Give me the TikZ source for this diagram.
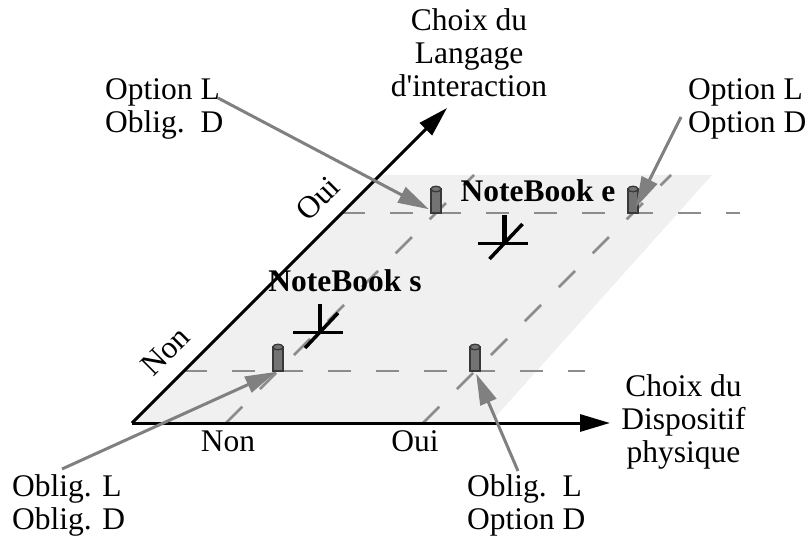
\documentclass[tikz,border=0pt]{standalone}
\usepackage{fontspec}
\setmainfont{Liberation Serif}
\usetikzlibrary{arrows.meta}

\tikzset{
  txt/.style={font=\fontsize{31.5}{33}\selectfont, inner sep=0pt},
  plane/.style={fill=black!6},
  gridline/.style={draw=black!45, line width=2.7pt, dash pattern=on 23pt off 25pt},
  axis/.style={line width=3pt, -{Triangle[length=30pt, width=17pt]}},
  callout/.style={draw=black!50, line width=3pt, -{Triangle[length=31pt, width=17pt]}},
  pegbody/.style={fill=black!55, draw=black!78, line width=1.3pt},
  peg/.pic={
    \filldraw[pegbody] (-5,-24) rectangle (5,0);
    \filldraw[pegbody] (0,-24) ellipse[x radius=5pt, y radius=2.8pt];
  },
  notemark/.pic={
    \draw[line width=3pt] (-27,0) -- (23,0);
    \draw[line width=4.5pt] (0,0) -- (0,-28);
    \draw[line width=3.5pt] (-15,16) -- (18,-19);
  }
}

\begin{document}
\begin{tikzpicture}[x=1pt, y=-1pt]
    \useasboundingbox (0,0) rectangle (810,537);

    % axes and plane
    \coordinate (O) at (132,423);
    \coordinate (xend) at (610,423);
    \coordinate (yend) at (447,108);
    \fill[plane] (O) -- (380,175) -- (712,175) -- (490,423) -- cycle;

    \draw[gridline] (184,371) -- (585,371);
    \draw[gridline] (342,213) -- (740,213);
    \draw[gridline] (226,423) -- (474,175);
    \draw[gridline] (423,423) -- (671,175);

    \draw[axis] (O) -- (xend);
    \draw[axis] (O) -- (yend);

    % pegs at the four choices
    \coordinate (pegNN) at (278,371);
    \coordinate (pegON) at (475,371);
    \coordinate (pegNO) at (436,213);
    \coordinate (pegOO) at (633,213);
    \foreach \p in {pegNN, pegON, pegNO, pegOO}
        \pic at (\p) {peg};

    % notebooks
    \pic at (320,332) {notemark};
    \pic at (504.5,243) {notemark};
    \node (nbs) [txt, anchor=base, font=\fontsize{31.5}{33}\selectfont\bfseries] at (345,291) {NoteBook s};
    \node (nbe) [txt, anchor=base, font=\fontsize{31.5}{33}\selectfont\bfseries] at (538,202) {NoteBook e};

    % axis labels
    \node (xlabel) [txt, align=center, anchor=north] at (683.5,374) {Choix du\\Dispositif\\physique};
    \node (ylabel) [txt, align=center, anchor=north] at (469,8.5) {Choix du\\Langage\\d\textquotesingle interaction};
    \node (xnon) [txt, anchor=base] at (228,451) {Non};
    \node (xoui) [txt, anchor=base] at (415,451) {Oui};
    \node (ynon) [txt, rotate=45] at (165,351) {Non};
    \node (youi) [txt, rotate=45] at (318,199) {Oui};

    % callouts
    \node (lblNW) [txt, align=left, anchor=north west] at (105,78.5) {Option L\\Oblig.\ \ D};
    \node (lblNE) [txt, align=left, anchor=north west] at (688,78) {Option L\\Option D};
    \node (lblSW) [txt, align=left, anchor=north west] at (12,474) {Oblig. L\\Oblig. D};
    \node (lblS) [txt, align=left, anchor=north west] at (467,474) {Oblig.\ \ L\\Option D};

    \coordinate (fromNW) at (218,98);
    \coordinate (fromNE) at (681,117);
    \coordinate (fromSW) at (62,469);
    \coordinate (fromS) at (518,471);

    \draw[callout, shorten >=8pt] (fromNW) -- (pegNO);
    \draw[callout, shorten >=6pt] (fromNE) -- (pegOO);
    \draw[callout, shorten >=2pt] (fromSW) -- (pegNN);
    \draw[callout, shorten >=3pt] (fromS) -- (pegON);
\end{tikzpicture}
\end{document}
